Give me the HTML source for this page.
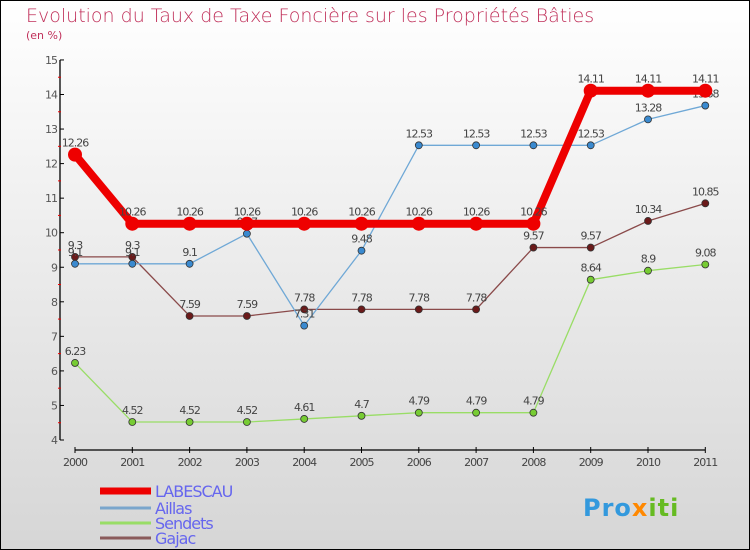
<!DOCTYPE html>
<html><head><meta charset="utf-8"><style>
body{margin:0}
#c{width:750px;height:550px;position:relative;box-sizing:border-box;border:1px solid #000;background:linear-gradient(#ffffff,#d6d6d6);font-family:"DejaVu Sans","Liberation Sans",sans-serif;overflow:hidden}
</style></head><body>
<div id="c">
<svg id="s" width="750" height="550" style="position:absolute;left:-1px;top:-1px">
<text x="26" y="22" font-size="19" fill="#c0305a" font-family="DejaVu Sans, sans-serif" font-weight="200">Evolution du Taux de Taxe Foncière sur les Propriétés Bâties</text>
<text x="26" y="39" font-size="11" fill="#c0305a">(en %)</text>
<g id="g"></g>
</svg>
</div>
<script>
const years=[2000,2001,2002,2003,2004,2005,2006,2007,2008,2009,2010,2011];
const labescau=[12.26,10.26,10.26,10.26,10.26,10.26,10.26,10.26,10.26,14.11,14.11,14.11];
const aillas=[9.1,9.1,9.1,9.97,7.31,9.48,12.53,12.53,12.53,12.53,13.28,13.68];
const sendets=[6.23,4.52,4.52,4.52,4.61,4.7,4.79,4.79,4.79,8.64,8.9,9.08];
const gajac=[9.3,9.3,7.59,7.59,7.78,7.78,7.78,7.78,9.57,9.57,10.34,10.85];
const yTicks=[4,5,6,7,8,9,10,11,12,13,14,15];
const ns="http://www.w3.org/2000/svg";
const g=document.getElementById('g');
const X=i=>75+i*57.3;
const Y=v=>440-(v-4)*34.55;
function el(t,a,name,p){const e=document.createElementNS(ns,t);for(const k in a)e.setAttribute(k,a[k]);


(p||g).appendChild(e);return e;}
// axes
el('line',{x1:60,y1:Y(15),x2:60,y2:Y(4),stroke:'#000','stroke-width':1.3},'y-axis');
el('line',{x1:75,y1:450,x2:705,y2:450,stroke:'#000','stroke-width':1.3},'x-axis');
yTicks.forEach(v=>{
 el('line',{x1:60,y1:Y(v),x2:64,y2:Y(v),stroke:'#000'},'y-tick');
 if(v<15)el('line',{x1:58,y1:Y(v+0.5),x2:61,y2:Y(v+0.5),stroke:'#e00'},'y-minor-tick');
 const t=el('text',{x:57,y:Y(v)+4,'text-anchor':'end','font-size':11,fill:'#555','letter-spacing':'-1'},'y-tick-label');t.textContent=v;
});
years.forEach((yr,i)=>{
 el('line',{x1:X(i),y1:447,x2:X(i),y2:453,stroke:'#000'},'x-tick');
 const t=el('text',{x:X(i),y:466,'text-anchor':'middle','font-size':11,fill:'#444','letter-spacing':'-1'},'x-tick-label');t.textContent=yr;
});
function series(data,color,w,r,dot,name){
 el('polyline',{points:data.map((v,i)=>X(i)+','+Y(v)).join(' '),fill:'none',stroke:color,'stroke-width':w,'stroke-linejoin':'round'},name+'-line');
 data.forEach((v,i)=>{
  el('circle',{cx:X(i),cy:Y(v),r:r,fill:dot,stroke:'#333','stroke-width':w>4?0:0.8},name+'-point');
  const t=el('text',{x:X(i),y:Y(v)-8,'text-anchor':'middle','font-size':11,fill:'#444','letter-spacing':'-1'},name+'-value-label');t.textContent=v;
 });
}
series(sendets,'#99dd66',1.3,3.5,'#77cc33','sendets');
series(gajac,'#8a4a4a',1.3,3.5,'#6b1a1a','gajac');
series(aillas,'#6fa8d6',1.3,3.5,'#3a8ad0','aillas');
series(labescau,'#ee0000',8,7,'#ee0000','labescau');
// legend
const leg=[['LABESCAU','#ee0000',7,491],['Aillas','#7aa6cc',3,508],['Sendets','#99dd66',3,523],['Gajac','#8a5a5a',3,538]];
leg.forEach(([n,c,w,y])=>{
 el('line',{x1:100,y1:y,x2:151,y2:y,stroke:c,'stroke-width':w},'legend-swatch');
 const t=el('text',{x:155,y:y+6,'font-size':16,fill:'#6666ee','letter-spacing':'-1'},'legend-entry');t.textContent=n;
});
// logo
const lg=el('text',{x:583,y:516,'font-size':24,'font-weight':'bold','letter-spacing':'1'},'proxiti-logo');
[['Pro','#3399dd'],['x','#ff8800'],['iti','#66bb22']].forEach(([s,c])=>{const ts=el('tspan',{fill:c},'logo-part',lg);ts.textContent=s;});
</script>
</body></html>
